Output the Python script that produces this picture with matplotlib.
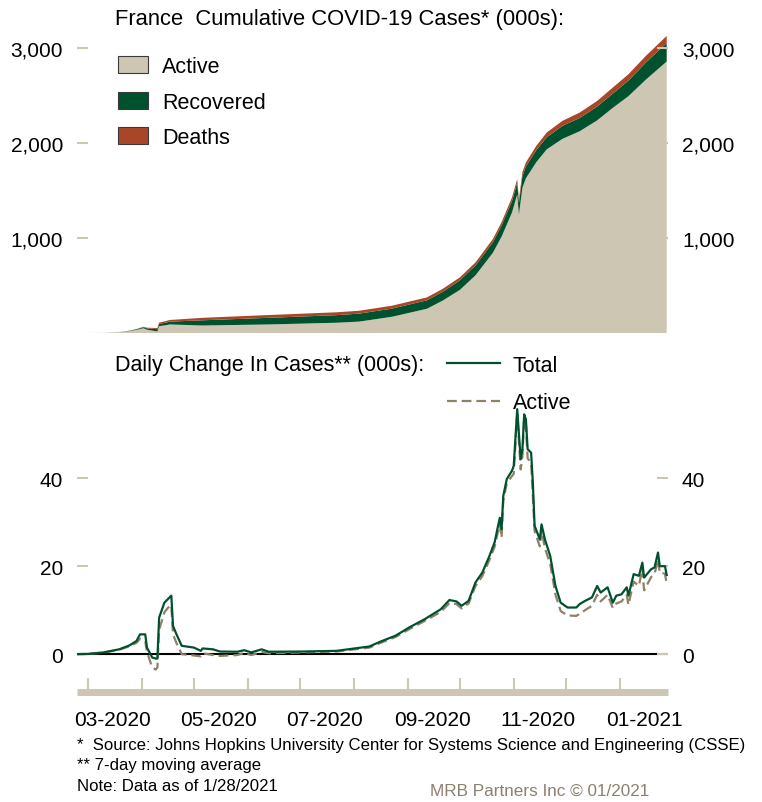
import matplotlib
matplotlib.use("Agg")
import matplotlib.pyplot as plt
import matplotlib.dates as mdates
import pandas as pd
from matplotlib.patches import Patch
from matplotlib.lines import Line2D

plt.rcParams['font.family'] = ['Liberation Sans', 'DejaVu Sans']

# cumulative cases (000s)
cum_dates = ['2020-02-23', '2020-03-01', '2020-03-10', '2020-03-19', '2020-03-25', '2020-03-29',
             '2020-04-02', '2020-04-04', '2020-04-10', '2020-04-11', '2020-04-15', '2020-04-17',
             '2020-05-06', '2020-06-13', '2020-07-22', '2020-08-04', '2020-08-23', '2020-09-12',
             '2020-09-21', '2020-10-01', '2020-10-10', '2020-10-20', '2020-10-25', '2020-10-31',
             '2020-11-03', '2020-11-04', '2020-11-06', '2020-11-08', '2020-11-14', '2020-11-20',
             '2020-11-29', '2020-12-09', '2020-12-19', '2020-12-28', '2021-01-06', '2021-01-16',
             '2021-01-28']
cum_active = [0.02, 0.1, 1.7, 10.5, 20.5, 33,
              50, 35, 16, 72, 82, 90,
              79, 90, 108, 120, 171, 255,
              340, 454, 607, 845, 1014, 1269,
              1460, 1248, 1530, 1630, 1800, 1935,
              2045, 2126, 2240, 2372, 2495, 2669,
              2860]
cum_recovered = [0, 0.01, 0.01, 0.01, 3.3, 6.5,
                 11, 14, 24, 25, 28, 30,
                 55, 70, 80, 84, 86, 89,
                 92, 100, 104, 111, 118, 121,
                 122, 122, 123, 124, 126, 127,
                 137, 140, 145, 150, 164, 180,
                 195]
cum_deaths = [0, 0, 0.03, 0.4, 1.3, 2.6,
              5, 7, 12, 13, 16, 17,
              26, 29.4, 30.2, 30.3, 30.6, 31,
              31.5, 32, 33, 34, 36, 38,
              39, 40, 42, 43, 46, 50,
              53, 57, 60, 64, 67, 70,
              75]

# daily change, 7-day moving average (000s)
daily_dates = ['2020-02-23', '2020-03-01', '2020-03-10', '2020-03-19', '2020-03-25', '2020-03-29',
               '2020-03-31', '2020-04-03', '2020-04-04', '2020-04-07', '2020-04-09', '2020-04-10',
               '2020-04-11', '2020-04-14', '2020-04-16', '2020-04-18', '2020-04-19', '2020-04-21',
               '2020-04-24', '2020-05-01', '2020-05-05', '2020-05-06', '2020-05-12', '2020-05-16',
               '2020-05-26', '2020-05-30', '2020-06-03', '2020-06-09', '2020-06-13', '2020-07-02',
               '2020-07-22', '2020-08-10', '2020-08-16', '2020-08-25', '2020-09-02', '2020-09-11',
               '2020-09-20', '2020-09-25', '2020-09-29', '2020-10-02', '2020-10-06', '2020-10-10',
               '2020-10-14', '2020-10-18', '2020-10-21', '2020-10-23', '2020-10-24', '2020-10-25',
               '2020-10-26', '2020-10-28', '2020-10-31', '2020-11-01', '2020-11-03', '2020-11-05',
               '2020-11-06', '2020-11-07', '2020-11-08', '2020-11-09', '2020-11-11', '2020-11-12',
               '2020-11-13', '2020-11-16', '2020-11-17', '2020-11-19', '2020-11-22', '2020-11-25',
               '2020-11-28', '2020-12-02', '2020-12-07', '2020-12-09', '2020-12-12', '2020-12-16',
               '2020-12-19', '2020-12-21', '2020-12-25', '2020-12-28', '2020-12-30', '2021-01-02',
               '2021-01-05', '2021-01-06', '2021-01-09', '2021-01-12', '2021-01-14', '2021-01-15',
               '2021-01-19', '2021-01-21', '2021-01-23', '2021-01-24', '2021-01-27', '2021-01-28']
daily_total = [0.0, 0.05, 0.4, 1.1, 2.0, 3.0,
               4.5, 4.5, 1.5, -0.75, -1.0, -1.0,
               8.3, 11.7, 12.5, 13.3, 6.4, 4.5,
               1.9, 1.5, 0.75, 1.3, 1.1, 0.6,
               0.55, 0.9, 0.4, 1.1, 0.55, 0.6,
               0.75, 1.75, 2.8, 4.2, 6.1, 8.0,
               10.2, 12.3, 12.0, 11.0, 12.1, 16.3,
               18.6, 22.3, 25.4, 29.2, 31.0, 28.4,
               36.0, 39.8, 41.7, 42.8, 55.7, 44.3,
               46.6, 54.5, 53.4, 46.6, 45.8, 39.0,
               29.2, 26.1, 29.5, 26.0, 22.3, 15.5,
               11.7, 10.6, 10.6, 11.4, 12.1, 12.9,
               15.5, 14.0, 15.2, 11.7, 13.3, 13.6,
               15.2, 13.3, 18.2, 17.8, 20.8, 17.4,
               19.3, 19.7, 23.1, 20.0, 20.0, 18.0]
daily_active = [0.0, 0.05, 0.35, 1.0, 1.8, 2.6,
                3.5, 3.0, 0.5, -3.0, -3.5, -3.0,
                5.5, 9.5, 10.5, 11.2, 4.5, 2.5,
                0.0, -0.3, -0.5, 0.2, -0.2, -0.4,
                -0.2, 0.3, -0.2, 0.5, 0.2, 0.4,
                0.6, 1.5, 2.5, 3.9, 5.7, 7.6,
                9.6, 11.6, 11.4, 10.4, 11.5, 15.5,
                17.8, 21.4, 24.4, 28.0, 29.5, 26.5,
                35.0, 38.8, 40.5, 41.0, 54.5, 42.0,
                45.0, 53.5, 52.0, 44.5, 43.5, 36.0,
                28.0, 24.5, 28.0, 24.0, 20.5, 13.5,
                9.8, 8.8, 8.7, 9.2, 10.0, 11.0,
                13.5, 12.0, 13.5, 10.5, 11.5, 12.0,
                13.5, 11.2, 16.5, 15.5, 19.5, 14.5,
                17.5, 18.2, 21.5, 18.5, 18.3, 16.0]

BEIGE = '#cdc6b3'
GREEN = '#00522f'
RUST = '#aa4628'
TAN = '#cdc6b2'
DASH = '#8e8168'

W, H = 762, 803
fig = plt.figure(figsize=(W / 100, H / 100), dpi=100)

def fx(px):
    return px / W

def fy(py):
    return 1 - py / H

x0, x1 = 77, 668
xlim = (pd.Timestamp('2020-02-23 18:00'), pd.Timestamp('2021-01-28 18:00'))

# ---- top panel: cumulative cases ----
ax1 = fig.add_axes([fx(x0), fy(334), fx(x1) - fx(x0), fy(35) - fy(334)])
cd = pd.to_datetime(cum_dates)
ax1.stackplot(cd, cum_active, cum_recovered, cum_deaths,
              colors=[BEIGE, GREEN, RUST], linewidth=0)
ax1.set_xlim(xlim)
ax1.set_ylim(0, 3150)
ax1.set_yticks([1000, 2000, 3000])
ax1.set_yticklabels(['1,000', '2,000', '3,000'])
ax1.tick_params(axis='y', direction='in', length=8, width=1.5, color=TAN,
                labelsize=15, pad=10, left=True, right=True, labelleft=True, labelright=True)
ax1.tick_params(axis='x', bottom=False, labelbottom=False)
for s in ax1.spines.values():
    s.set_visible(False)

handles = [Patch(facecolor=c, edgecolor='#3a3a3a', linewidth=0.8) for c in (BEIGE, GREEN, RUST)]
ax1.legend(handles, ['Active', 'Recovered', 'Deaths'], loc='upper left',
           bbox_to_anchor=(fx(118), fy(57)), bbox_transform=fig.transFigure,
           frameon=False, fontsize=15.5, borderpad=0, borderaxespad=0,
           handlelength=1.4, handleheight=0.84, handletextpad=0.65, labelspacing=0.68)

fig.text(fx(115), fy(20), 'France  Cumulative COVID-19 Cases* (000s):', fontsize=15.8,
         va='center', ha='left')

# ---- bottom panel: daily change ----
ax2 = fig.add_axes([fx(x0), fy(693), fx(x1) - fx(x0), fy(356) - fy(693)])
dd = pd.to_datetime(daily_dates)
ax2.plot(dd, daily_active, color=DASH, lw=1.6, dashes=(4.4, 2.2), zorder=2)
ax2.plot(dd, daily_total, color=GREEN, lw=1.6, zorder=3)
ax2.axhline(0, color='black', lw=1.5, zorder=1)
ax2.set_xlim(xlim)
ax2.set_ylim(-8.6, 68)
ax2.set_yticks([0, 20, 40])
ax2.tick_params(axis='y', direction='in', length=8, width=1.5, color=TAN,
                labelsize=15, pad=10, left=True, right=True, labelleft=True, labelright=True)

ax2.xaxis.set_major_locator(mdates.MonthLocator())
ax2.xaxis.set_major_formatter(plt.NullFormatter())
ax2.xaxis.set_minor_locator(mdates.MonthLocator(bymonth=[1, 3, 5, 7, 9, 11], bymonthday=15))
ax2.xaxis.set_minor_formatter(mdates.DateFormatter('%m-%Y'))
ax2.tick_params(axis='x', which='major', direction='in', length=10, width=1.5, color=TAN)
ax2.tick_params(axis='x', which='minor', length=0, labelsize=15, pad=13)
for name, s in ax2.spines.items():
    if name == 'bottom':
        s.set_color(TAN)
        s.set_linewidth(5)
        s.set_capstyle('butt')
    else:
        s.set_visible(False)

fig.text(fx(115), fy(365), 'Daily Change In Cases** (000s):', fontsize=15.5,
         va='center', ha='left')
lh = [Line2D([], [], color=GREEN, lw=1.6),
      Line2D([], [], color=DASH, lw=1.6, dashes=(4.4, 2.2))]
ax2.legend(lh, ['Total', 'Active'], loc='upper left',
           bbox_to_anchor=(fx(447), fy(356)), bbox_transform=fig.transFigure,
           frameon=False, fontsize=15.5, borderpad=0, borderaxespad=0,
           handlelength=2.45, handletextpad=0.6, labelspacing=0.75)

# ---- footnotes ----
fig.text(fx(77), fy(746), '*  Source: Johns Hopkins University Center for Systems Science and Engineering (CSSE)',
         fontsize=12.1, va='center', ha='left')
fig.text(fx(77), fy(766), '** 7-day moving average', fontsize=12.1, va='center', ha='left')
fig.text(fx(77), fy(787), 'Note: Data as of 1/28/2021', fontsize=12.1, va='center', ha='left')
fig.text(fx(430), fy(791), 'MRB Partners Inc \u00a9 01/2021', fontsize=12.3, color='#8c8070',
         va='center', ha='left')

fig.savefig('out.png', dpi=100)
